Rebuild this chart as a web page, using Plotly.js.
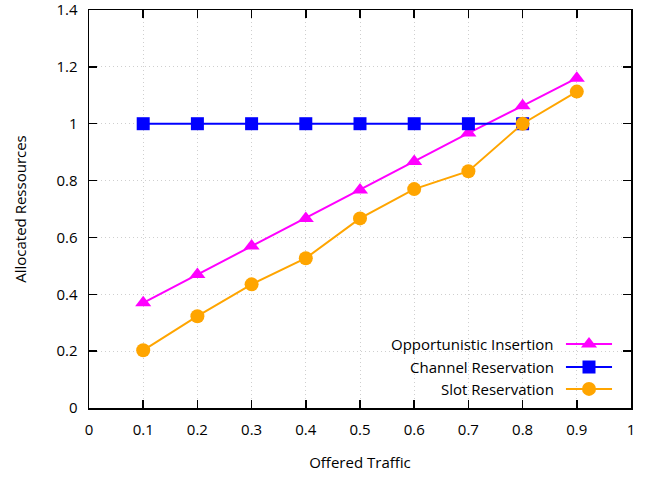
<!DOCTYPE html>
<html>
<head>
<meta charset="utf-8">
<script src="https://cdn.plot.ly/plotly-3.0.1.min.js"></script>
<style>html,body{margin:0;padding:0;background:#fff;}#chart{width:656px;height:477px;}</style>
</head>
<body>
<div id="chart"></div>
<script>
const traffic = [0.1, 0.2, 0.3, 0.4, 0.5, 0.6, 0.7, 0.8, 0.9];
const opportunistic = [0.37, 0.47, 0.57, 0.667, 0.767, 0.867, 0.967, 1.063, 1.16];
const channelX = [0.1, 0.2, 0.3, 0.4, 0.5, 0.6, 0.7, 0.8];
const channel = [1, 1, 1, 1, 1, 1, 1, 1];
const slot = [0.203, 0.323, 0.435, 0.527, 0.667, 0.77, 0.833, 1.0, 1.113];
const seriesNames = ["Opportunistic Insertion", "Channel Reservation", "Slot Reservation"];
const xTicks = [0, 0.1, 0.2, 0.3, 0.4, 0.5, 0.6, 0.7, 0.8, 0.9, 1];
const xTickLabels = ["0", "0.1", "0.2", "0.3", "0.4", "0.5", "0.6", "0.7", "0.8", "0.9", "1"];
const yTicks = [0, 0.2, 0.4, 0.6, 0.8, 1, 1.2, 1.4];
const yTickLabels = ["0", "0.2", "0.4", "0.6", "0.8", "1", "1.2", "1.4"];

const colors = ["#ff00ff", "#0000ff", "#ffa500"];
const symbols = ["triangle-up", "square", "circle"];
const FONT = "'Open Sans', sans-serif";
const FS = 15;

const traces = [
  {x: traffic, y: opportunistic, mode: "lines+markers", name: seriesNames[0],
   line: {color: colors[0], width: 2}, marker: {symbol: symbols[0], size: 14, color: colors[0]}},
  {x: channelX, y: channel, mode: "lines+markers", name: seriesNames[1],
   line: {color: colors[1], width: 2}, marker: {symbol: symbols[1], size: 13, color: colors[1]}},
  {x: traffic, y: slot, mode: "lines+markers", name: seriesNames[2],
   line: {color: colors[2], width: 2}, marker: {symbol: symbols[2], size: 14, color: colors[2]}}
];

const keyY = [0.161, 0.103, 0.048];
const annotations = [];
for (let i = 0; i < 3; i++) {
  traces.push({x: [0.880, 0.965], y: [keyY[i], keyY[i]], xaxis: "x2", yaxis: "y2", mode: "lines",
    line: {color: colors[i], width: 2}, showlegend: false, hoverinfo: "skip"});
  traces.push({x: [0.9225], y: [keyY[i]], xaxis: "x2", yaxis: "y2", mode: "markers",
    marker: {symbol: symbols[i], size: i === 1 ? 13 : 14, color: colors[i]}, showlegend: false, hoverinfo: "skip"});
  annotations.push({xref: "paper", yref: "paper", x: 0.862, y: keyY[i], xanchor: "right", yanchor: "middle",
    text: seriesNames[i], showarrow: false, font: {family: FONT, size: FS, color: "#000"}});
}

const gridStyle = {showgrid: true, gridcolor: "#cfcfcf", griddash: "1px,3px", gridwidth: 1, zeroline: false};

const layout = {
  width: 656, height: 477,
  margin: {l: 89, r: 25, t: 10, b: 69},
  paper_bgcolor: "#fff", plot_bgcolor: "#fff",
  showlegend: false,
  font: {family: FONT, size: FS, color: "#000"},
  xaxis: Object.assign({range: [0, 1], tickvals: xTicks, ticktext: xTickLabels, ticks: "inside", ticklen: 8, tickwidth: 1.5,
    tickcolor: "#000", showline: true, linecolor: "#000", linewidth: 1.5, mirror: "ticks",
    ticklabelstandoff: 7, ticklabeloverflow: "allow",
    title: {text: "Offered Traffic", font: {family: FONT, size: FS}, standoff: 20},
    tickfont: {family: FONT, size: FS}}, gridStyle),
  yaxis: Object.assign({range: [0, 1.4], tickvals: yTicks, ticktext: yTickLabels, ticks: "inside", ticklen: 8, tickwidth: 1.5,
    tickcolor: "#000", showline: true, linecolor: "#000", linewidth: 1.5, mirror: "ticks",
    ticklabelstandoff: 7, ticklabeloverflow: "allow",
    title: {text: "Allocated Ressources", font: {family: FONT, size: FS}, standoff: 26},
    tickfont: {family: FONT, size: FS}}, gridStyle),
  xaxis2: {overlaying: "x", range: [0, 1], visible: false, fixedrange: true},
  yaxis2: {overlaying: "y", range: [0, 1], visible: false, fixedrange: true},
  shapes: [{type: "rect", xref: "paper", yref: "paper", x0: 0.459, x1: 1, y0: 0, y1: 0.191,
    fillcolor: "#fff", line: {width: 0}, layer: "below"}],
  annotations: annotations
};

Plotly.newPlot("chart", traces, layout, {staticPlot: true, displayModeBar: false});
</script>
</body>
</html>
